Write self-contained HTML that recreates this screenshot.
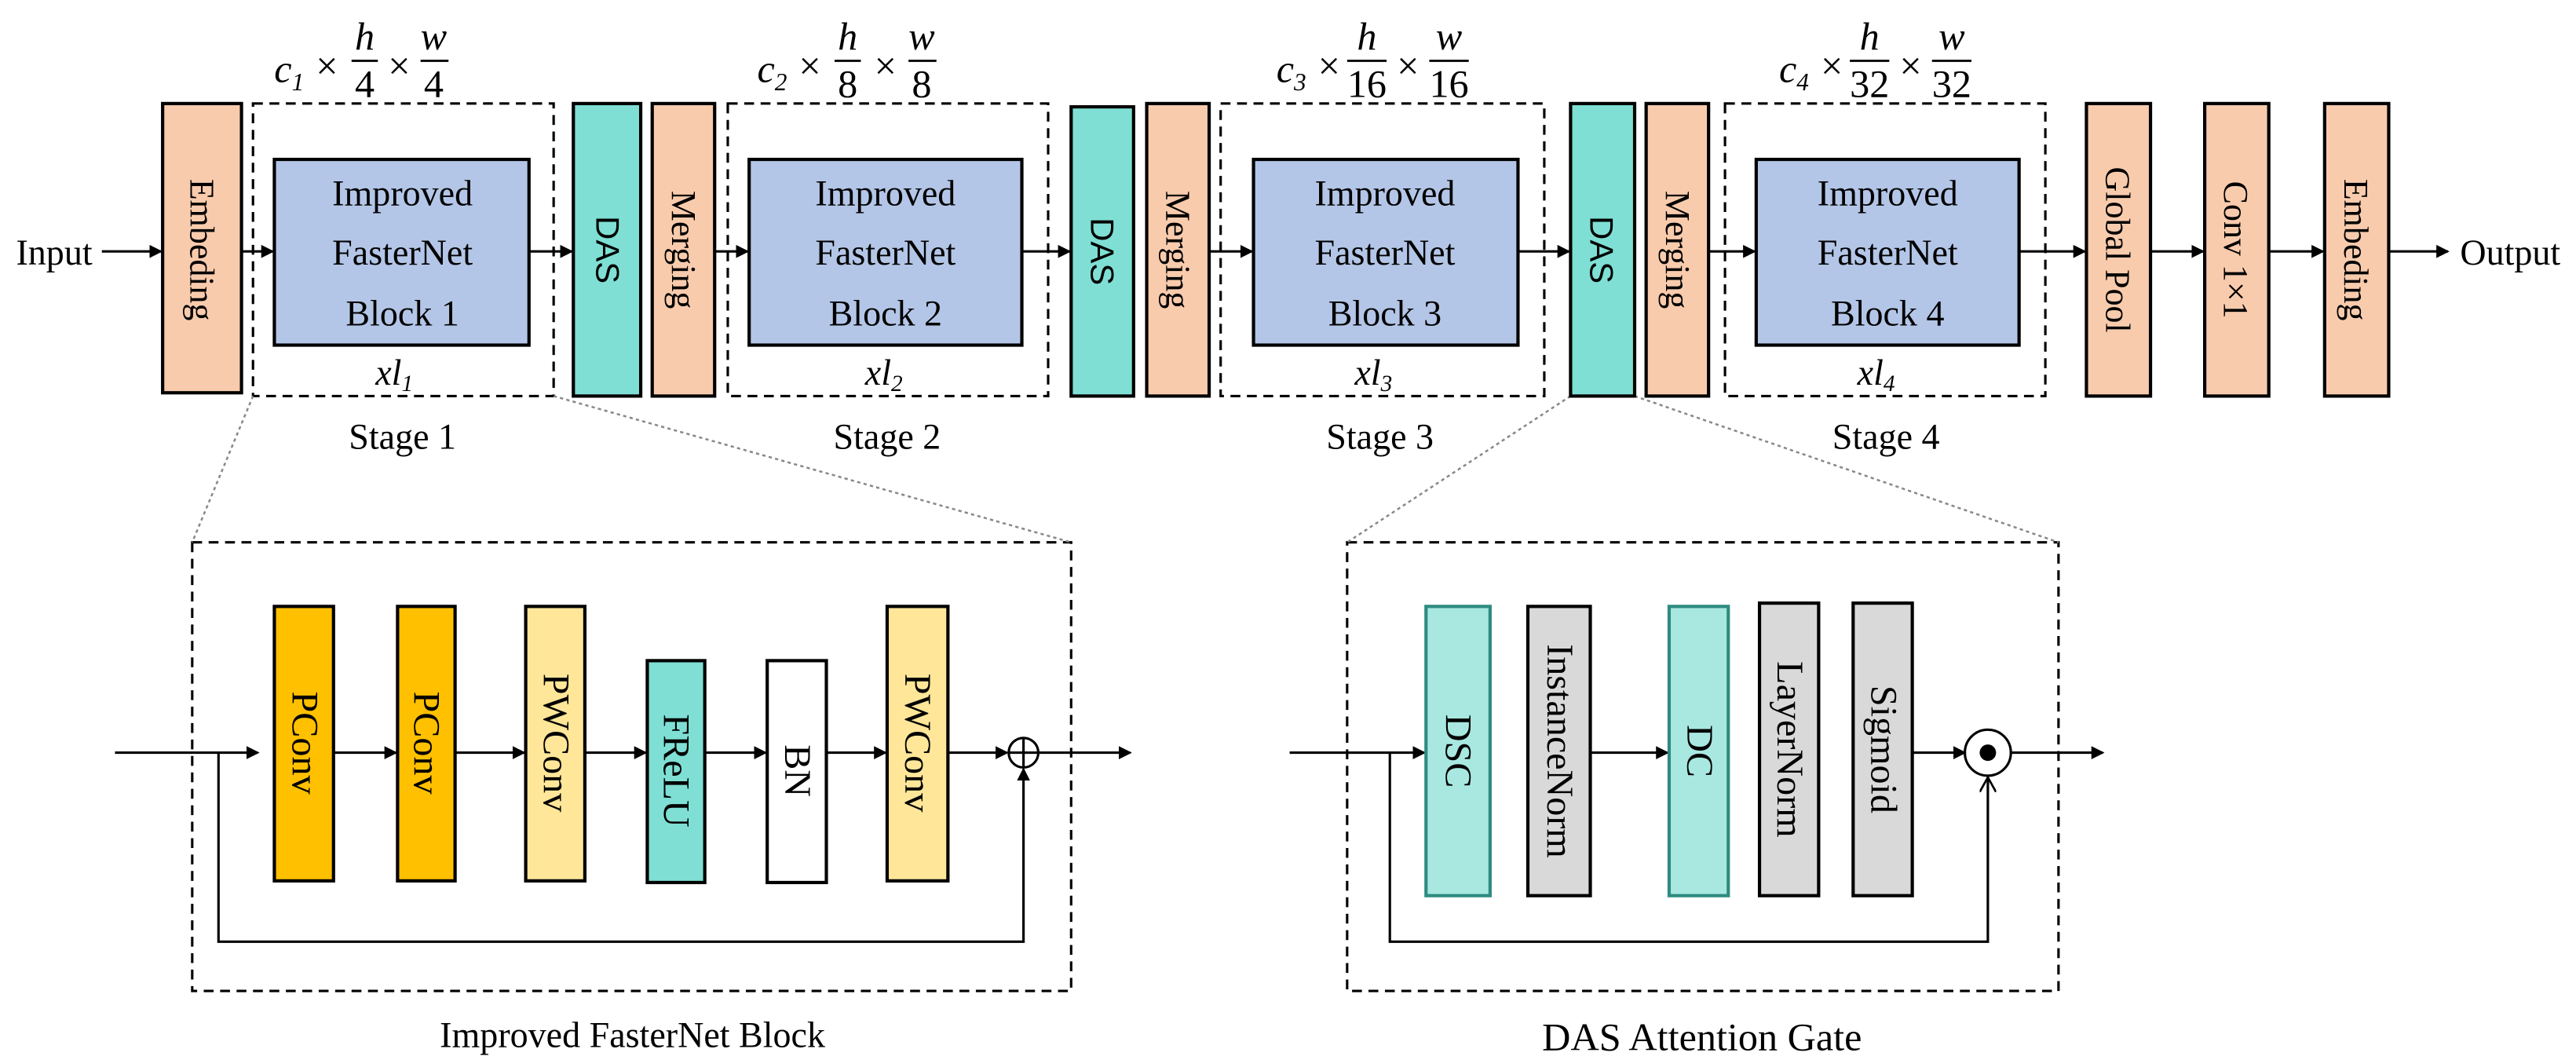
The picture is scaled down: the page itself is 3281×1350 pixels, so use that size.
<!DOCTYPE html>
<html><head><meta charset="utf-8"><style>html,body{margin:0;padding:0;background:#fff}svg{display:block}</style></head><body>
<svg width="3281" height="1350" viewBox="0 0 1568 645" preserveAspectRatio="none" xmlns="http://www.w3.org/2000/svg" font-family="Liberation Serif, serif">
<defs><marker id="a" markerWidth="8" markerHeight="8" refX="7" refY="4" orient="auto" markerUnits="userSpaceOnUse"><path d="M0,0 L8,4 L0,8 Z" fill="#000"/></marker>
<marker id="o" markerWidth="10" markerHeight="10" refX="9" refY="5" orient="auto" markerUnits="userSpaceOnUse"><path d="M0,0 L9,5 L0,10" fill="none" stroke="#000" stroke-width="1.3"/></marker></defs>
<g stroke="#000" stroke-width="1.5" fill="none">
<g stroke-dasharray="6,4">
<rect x="154" y="63" width="183" height="178"/><rect x="443" y="63" width="195" height="178"/>
<rect x="743" y="63" width="197" height="178"/><rect x="1050" y="63" width="195" height="178"/>
<rect x="117" y="330" width="535" height="273"/><rect x="820" y="330" width="433" height="273"/>
</g>
<g stroke="#888" stroke-width="1.2" stroke-dasharray="2,2">
<line x1="154" y1="241" x2="117" y2="330"/><line x1="337" y1="241" x2="652" y2="330"/>
<line x1="956" y1="241" x2="820" y2="330"/><line x1="995" y1="241" x2="1253" y2="330"/>
</g>
<g marker-end="url(#a)">
<line x1="62" y1="153" x2="98" y2="153"/><line x1="147" y1="153" x2="166" y2="153"/>
<line x1="322" y1="153" x2="348" y2="153"/><line x1="435" y1="153" x2="455" y2="153"/>
<line x1="622" y1="153" x2="651" y2="153"/><line x1="736" y1="153" x2="762" y2="153"/>
<line x1="924" y1="153" x2="955" y2="153"/><line x1="1040" y1="153" x2="1068" y2="153"/>
<line x1="1229" y1="153" x2="1269" y2="153"/><line x1="1309" y1="153" x2="1341" y2="153"/>
<line x1="1381" y1="153" x2="1414" y2="153"/><line x1="1454" y1="153" x2="1490" y2="153"/>
</g>
</g>
<g stroke="#000" stroke-width="2">
<rect x="99" y="63" width="48" height="176" fill="#F8CBAD"/>
<rect x="167" y="97" width="155" height="113" fill="#B4C6E7"/>
<rect x="349" y="63" width="41" height="178" fill="#7FDFD4"/>
<rect x="397" y="63" width="38" height="178" fill="#F8CBAD"/>
<rect x="456" y="97" width="166" height="113" fill="#B4C6E7"/>
<rect x="652" y="65" width="38" height="176" fill="#7FDFD4"/>
<rect x="698" y="63" width="38" height="178" fill="#F8CBAD"/>
<rect x="763" y="97" width="161" height="113" fill="#B4C6E7"/>
<rect x="956" y="63" width="39" height="178" fill="#7FDFD4"/>
<rect x="1002" y="63" width="38" height="178" fill="#F8CBAD"/>
<rect x="1069" y="97" width="160" height="113" fill="#B4C6E7"/>
<rect x="1270" y="63" width="39" height="178" fill="#F8CBAD"/>
<rect x="1342" y="63" width="39" height="178" fill="#F8CBAD"/>
<rect x="1415" y="63" width="39" height="178" fill="#F8CBAD"/>
</g>
<g font-size="22" text-anchor="middle">
<text x="33" y="161">Input</text><text x="1528" y="161">Output</text>
<text x="245" y="125">Improved</text><text x="245" y="161">FasterNet</text><text x="245" y="198">Block 1</text>
<text x="539" y="125">Improved</text><text x="539" y="161">FasterNet</text><text x="539" y="198">Block 2</text>
<text x="843" y="125">Improved</text><text x="843" y="161">FasterNet</text><text x="843" y="198">Block 3</text>
<text x="1149" y="125">Improved</text><text x="1149" y="161">FasterNet</text><text x="1149" y="198">Block 4</text>
<text x="245" y="273">Stage 1</text><text x="540" y="273">Stage 2</text><text x="840" y="273">Stage 3</text><text x="1148" y="273">Stage 4</text>
<text x="385" y="637">Improved FasterNet Block</text><text x="1036" y="639" font-size="24">DAS Attention Gate</text>
</g>
<g font-size="21" text-anchor="middle">
<text transform="translate(116,152) rotate(90)">Embeding</text>
<text transform="translate(363,152) rotate(90)" font-family="Liberation Sans, sans-serif" font-size="20">DAS</text>
<text transform="translate(409,152) rotate(90)">Merging</text>
<text transform="translate(664,153) rotate(90)" font-family="Liberation Sans, sans-serif" font-size="20">DAS</text>
<text transform="translate(710,152) rotate(90)">Merging</text>
<text transform="translate(968,152) rotate(90)" font-family="Liberation Sans, sans-serif" font-size="20">DAS</text>
<text transform="translate(1014,152) rotate(90)">Merging</text>
<text transform="translate(1282,152) rotate(90)">Global Pool</text>
<text transform="translate(1354,152) rotate(90)">Conv 1×1</text>
<text transform="translate(1427,152) rotate(90)">Embeding</text>
</g>
<g font-size="24" font-style="italic" text-anchor="middle" stroke="none">
<g><text x="176" y="50">c<tspan font-size="15" dy="5">1</tspan></text><text x="199" y="48" font-style="normal">×</text><text x="222" y="30">h</text><line x1="214" y1="37" x2="230" y2="37" stroke="#000" stroke-width="1.4"/><text x="222" y="59" font-style="normal">4</text><text x="243" y="48" font-style="normal">×</text><text x="264" y="30">w</text><line x1="256" y1="37" x2="273" y2="37" stroke="#000" stroke-width="1.4"/><text x="264" y="59" font-style="normal">4</text></g>
<g><text x="470" y="50">c<tspan font-size="15" dy="5">2</tspan></text><text x="493" y="48" font-style="normal">×</text><text x="516" y="30">h</text><line x1="508" y1="37" x2="524" y2="37" stroke="#000" stroke-width="1.4"/><text x="516" y="59" font-style="normal">8</text><text x="539" y="48" font-style="normal">×</text><text x="561" y="30">w</text><line x1="553" y1="37" x2="570" y2="37" stroke="#000" stroke-width="1.4"/><text x="561" y="59" font-style="normal">8</text></g>
<g><text x="786" y="50">c<tspan font-size="15" dy="5">3</tspan></text><text x="809" y="48" font-style="normal">×</text><text x="832" y="30">h</text><line x1="820" y1="37" x2="844" y2="37" stroke="#000" stroke-width="1.4"/><text x="832" y="59" font-style="normal">16</text><text x="857" y="48" font-style="normal">×</text><text x="882" y="30">w</text><line x1="870" y1="37" x2="894" y2="37" stroke="#000" stroke-width="1.4"/><text x="882" y="59" font-style="normal">16</text></g>
<g><text x="1092" y="50">c<tspan font-size="15" dy="5">4</tspan></text><text x="1115" y="48" font-style="normal">×</text><text x="1138" y="30">h</text><line x1="1126" y1="37" x2="1150" y2="37" stroke="#000" stroke-width="1.4"/><text x="1138" y="59" font-style="normal">32</text><text x="1163" y="48" font-style="normal">×</text><text x="1188" y="30">w</text><line x1="1176" y1="37" x2="1200" y2="37" stroke="#000" stroke-width="1.4"/><text x="1188" y="59" font-style="normal">32</text></g>
<text x="240" y="234" font-size="22">xl<tspan font-size="14" dy="4">1</tspan></text>
<text x="538" y="234" font-size="22">xl<tspan font-size="14" dy="4">2</tspan></text>
<text x="836" y="234" font-size="22">xl<tspan font-size="14" dy="4">3</tspan></text>
<text x="1142" y="234" font-size="22">xl<tspan font-size="14" dy="4">4</tspan></text>
</g>
<g stroke="#000" stroke-width="1.5" fill="none">
<line x1="70" y1="458" x2="157" y2="458" marker-end="url(#a)"/>
<line x1="203" y1="458" x2="241" y2="458" marker-end="url(#a)"/>
<line x1="277" y1="458" x2="319" y2="458" marker-end="url(#a)"/>
<line x1="356" y1="458" x2="393" y2="458" marker-end="url(#a)"/>
<line x1="429" y1="458" x2="466" y2="458" marker-end="url(#a)"/>
<line x1="503" y1="458" x2="539" y2="458" marker-end="url(#a)"/>
<line x1="577" y1="458" x2="613" y2="458" marker-end="url(#a)"/>
<line x1="632" y1="458" x2="688" y2="458" marker-end="url(#a)"/>
<polyline points="133,458 133,573 623,573 623,468" marker-end="url(#a)"/>
<circle cx="623" cy="458" r="9"/><line x1="614" y1="458" x2="632" y2="458"/><line x1="623" y1="449" x2="623" y2="467"/>
</g>
<g stroke="#000" stroke-width="2">
<rect x="167" y="369" width="36" height="167" fill="#FFC000"/>
<rect x="242" y="369" width="35" height="167" fill="#FFC000"/>
<rect x="320" y="369" width="36" height="167" fill="#FFE699"/>
<rect x="394" y="402" width="35" height="135" fill="#7FDFD4"/>
<rect x="467" y="402" width="36" height="135" fill="#fff"/>
<rect x="540" y="369" width="37" height="167" fill="#FFE699"/>
</g>
<g font-size="23" text-anchor="middle">
<text transform="translate(178,452) rotate(90)">PConv</text>
<text transform="translate(252,452) rotate(90)">PConv</text>
<text transform="translate(331,452) rotate(90)">PWConv</text>
<text transform="translate(404,469) rotate(90)">FReLU</text>
<text transform="translate(478,469) rotate(90)">BN</text>
<text transform="translate(551,452) rotate(90)">PWConv</text>
</g>
<g stroke="#000" stroke-width="1.5" fill="none">
<line x1="785" y1="458" x2="867" y2="458" marker-end="url(#a)"/>
<line x1="968" y1="458" x2="1015" y2="458" marker-end="url(#a)"/>
<line x1="1164" y1="458" x2="1196" y2="458" marker-end="url(#a)"/>
<line x1="1224" y1="458" x2="1280" y2="458" marker-end="url(#a)"/>
<polyline points="846,458 846,573 1210,573 1210,473" marker-end="url(#o)"/>
<circle cx="1210" cy="458" r="14"/>
</g>
<circle cx="1210" cy="458" r="5" fill="#000"/>
<g stroke-width="2">
<rect x="868" y="369" width="39" height="176" fill="#A8E8E0" stroke="#2E8B80"/>
<rect x="930" y="369" width="38" height="176" fill="#D9D9D9" stroke="#000"/>
<rect x="1016" y="369" width="36" height="176" fill="#A8E8E0" stroke="#2E8B80"/>
<rect x="1071" y="367" width="36" height="178" fill="#D9D9D9" stroke="#000"/>
<rect x="1128" y="367" width="36" height="178" fill="#D9D9D9" stroke="#000"/>
</g>
<g font-size="23" text-anchor="middle">
<text transform="translate(880,457) rotate(90)">DSC</text>
<text transform="translate(942,457) rotate(90)">InstanceNorm</text>
<text transform="translate(1027,457) rotate(90)">DC</text>
<text transform="translate(1082,456) rotate(90)">LayerNorm</text>
<text transform="translate(1139,456) rotate(90)">Sigmoid</text>
</g>
</svg>
</body></html>
